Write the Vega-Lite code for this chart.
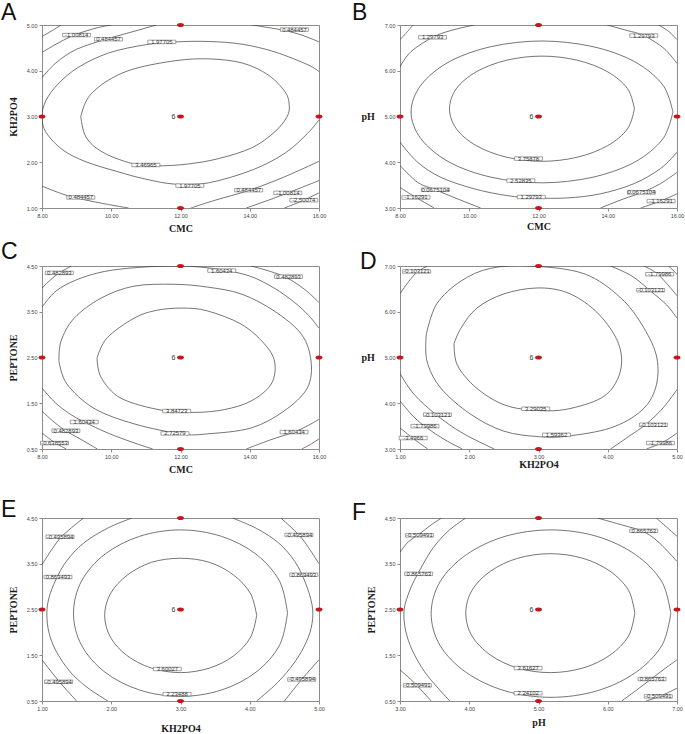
{
"$schema": "https://vega.github.io/schema/vega-lite/v6.json",
"padding": {"left": 0, "top": 1, "right": 2, "bottom": 2},
"datasets": {
"lines": [
{"p":"A","c":"A1","x":9.12,"y":3.0},{"p":"A","c":"A1","x":9.35,"y":3.43},{"p":"A","c":"A1","x":9.93,"y":3.8},{"p":"A","c":"A1","x":10.7,"y":4.05},{"p":"A","c":"A1","x":11.86,"y":4.22},{"p":"A","c":"A1","x":12.81,"y":4.26},{"p":"A","c":"A1","x":13.78,"y":4.17},{"p":"A","c":"A1","x":14.53,"y":3.91},{"p":"A","c":"A1","x":15.02,"y":3.54},{"p":"A","c":"A1","x":15.14,"y":3.25},{"p":"A","c":"A1","x":15.08,"y":3.0},{"p":"A","c":"A1","x":14.73,"y":2.67},{"p":"A","c":"A1","x":14.07,"y":2.32},{"p":"A","c":"A1","x":13.1,"y":2.08},{"p":"A","c":"A1","x":12.2,"y":1.96},{"p":"A","c":"A1","x":11.3,"y":1.92},{"p":"A","c":"A1","x":10.61,"y":1.97},{"p":"A","c":"A1","x":9.75,"y":2.22},{"p":"A","c":"A1","x":9.27,"y":2.55},{"p":"A","c":"A1","x":9.12,"y":3.0},
{"p":"A","c":"A2","x":16,"y":3.98},{"p":"A","c":"A2","x":15.68,"y":4.13},{"p":"A","c":"A2","x":14.73,"y":4.41},{"p":"A","c":"A2","x":13.78,"y":4.58},{"p":"A","c":"A2","x":12.81,"y":4.64},{"p":"A","c":"A2","x":11.86,"y":4.63},{"p":"A","c":"A2","x":11.0,"y":4.57},{"p":"A","c":"A2","x":9.93,"y":4.39},{"p":"A","c":"A2","x":9.06,"y":4.08},{"p":"A","c":"A2","x":8.49,"y":3.73},{"p":"A","c":"A2","x":8.12,"y":3.36},{"p":"A","c":"A2","x":8.0,"y":3.0},{"p":"A","c":"A2","x":8.12,"y":2.65},{"p":"A","c":"A2","x":8.6,"y":2.27},{"p":"A","c":"A2","x":9.27,"y":2.01},{"p":"A","c":"A2","x":10.2,"y":1.79},{"p":"A","c":"A2","x":11.0,"y":1.63},{"p":"A","c":"A2","x":11.86,"y":1.52},{"p":"A","c":"A2","x":12.81,"y":1.55},{"p":"A","c":"A2","x":14.07,"y":1.83},{"p":"A","c":"A2","x":15.02,"y":2.2},{"p":"A","c":"A2","x":15.68,"y":2.64},{"p":"A","c":"A2","x":16,"y":2.93},
{"p":"A","c":"A3","x":8,"y":3.85},{"p":"A","c":"A3","x":8.4,"y":4.17},{"p":"A","c":"A3","x":9.0,"y":4.47},{"p":"A","c":"A3","x":9.9,"y":4.7},{"p":"A","c":"A3","x":10.7,"y":4.87},{"p":"A","c":"A3","x":11.3,"y":5.0},
{"p":"A","c":"A4","x":14.07,"y":5.0},{"p":"A","c":"A4","x":14.94,"y":4.89},{"p":"A","c":"A4","x":15.5,"y":4.78},{"p":"A","c":"A4","x":16,"y":4.63},
{"p":"A","c":"A5","x":8,"y":1.48},{"p":"A","c":"A5","x":8.78,"y":1.26},{"p":"A","c":"A5","x":9.75,"y":1.1},{"p":"A","c":"A5","x":10.5,"y":1.0},
{"p":"A","c":"A6","x":12.3,"y":1.0},{"p":"A","c":"A6","x":13.0,"y":1.17},{"p":"A","c":"A6","x":14.0,"y":1.39},{"p":"A","c":"A6","x":15.0,"y":1.68},{"p":"A","c":"A6","x":16,"y":2.02},
{"p":"A","c":"A7","x":8,"y":4.4},{"p":"A","c":"A7","x":8.5,"y":4.62},{"p":"A","c":"A7","x":9.0,"y":4.8},{"p":"A","c":"A7","x":9.6,"y":4.94},{"p":"A","c":"A7","x":10.0,"y":5.0},
{"p":"A","c":"A8","x":13.9,"y":1.0},{"p":"A","c":"A8","x":14.5,"y":1.16},{"p":"A","c":"A8","x":15.1,"y":1.33},{"p":"A","c":"A8","x":16,"y":1.6},
{"p":"A","c":"A9","x":8,"y":4.75},{"p":"A","c":"A9","x":8.3,"y":4.88},{"p":"A","c":"A9","x":8.55,"y":5.0},
{"p":"A","c":"A10","x":15.0,"y":1.0},{"p":"A","c":"A10","x":15.5,"y":1.15},{"p":"A","c":"A10","x":16,"y":1.33},

{"p":"B","c":"B1","x":14.77,"y":5.17},{"p":"B","c":"B1","x":14.57,"y":5.61},{"p":"B","c":"B1","x":13.99,"y":5.98},{"p":"B","c":"B1","x":13.12,"y":6.23},{"p":"B","c":"B1","x":12.1,"y":6.32},{"p":"B","c":"B1","x":11.08,"y":6.23},{"p":"B","c":"B1","x":10.21,"y":5.98},{"p":"B","c":"B1","x":9.63,"y":5.61},{"p":"B","c":"B1","x":9.43,"y":5.17},{"p":"B","c":"B1","x":9.63,"y":4.73},{"p":"B","c":"B1","x":10.21,"y":4.36},{"p":"B","c":"B1","x":11.08,"y":4.11},{"p":"B","c":"B1","x":12.1,"y":4.02},{"p":"B","c":"B1","x":13.12,"y":4.11},{"p":"B","c":"B1","x":13.99,"y":4.36},{"p":"B","c":"B1","x":14.57,"y":4.73},{"p":"B","c":"B1","x":14.77,"y":5.17},
{"p":"B","c":"B2","x":15.88,"y":5.1},{"p":"B","c":"B2","x":15.59,"y":5.69},{"p":"B","c":"B2","x":14.77,"y":6.2},{"p":"B","c":"B2","x":13.55,"y":6.53},{"p":"B","c":"B2","x":12.1,"y":6.65},{"p":"B","c":"B2","x":10.65,"y":6.53},{"p":"B","c":"B2","x":9.43,"y":6.2},{"p":"B","c":"B2","x":8.61,"y":5.69},{"p":"B","c":"B2","x":8.32,"y":5.1},{"p":"B","c":"B2","x":8.61,"y":4.51},{"p":"B","c":"B2","x":9.43,"y":4.0},{"p":"B","c":"B2","x":10.65,"y":3.67},{"p":"B","c":"B2","x":12.1,"y":3.55},{"p":"B","c":"B2","x":13.55,"y":3.67},{"p":"B","c":"B2","x":14.77,"y":4.0},{"p":"B","c":"B2","x":15.59,"y":4.51},{"p":"B","c":"B2","x":15.88,"y":5.1},
{"p":"B","c":"B3","x":8,"y":6.09},{"p":"B","c":"B3","x":8.32,"y":6.42},{"p":"B","c":"B3","x":8.94,"y":6.73},{"p":"B","c":"B3","x":9.47,"y":6.88},{"p":"B","c":"B3","x":10.14,"y":7},
{"p":"B","c":"B4","x":13.98,"y":7},{"p":"B","c":"B4","x":14.56,"y":6.88},{"p":"B","c":"B4","x":15.04,"y":6.77},{"p":"B","c":"B4","x":15.62,"y":6.49},{"p":"B","c":"B4","x":16,"y":6.16},
{"p":"B","c":"B5","x":8,"y":4.44},{"p":"B","c":"B5","x":8.51,"y":4.0},{"p":"B","c":"B5","x":9.18,"y":3.67},{"p":"B","c":"B5","x":10.14,"y":3.42},{"p":"B","c":"B5","x":11.1,"y":3.27},{"p":"B","c":"B5","x":11.9,"y":3.22},{"p":"B","c":"B5","x":12.83,"y":3.22},{"p":"B","c":"B5","x":13.79,"y":3.31},{"p":"B","c":"B5","x":14.75,"y":3.53},{"p":"B","c":"B5","x":15.52,"y":3.86},{"p":"B","c":"B5","x":16,"y":4.22},
{"p":"B","c":"B6","x":8,"y":6.68},{"p":"B","c":"B6","x":8.22,"y":6.86},{"p":"B","c":"B6","x":8.37,"y":7},
{"p":"B","c":"B7","x":15.47,"y":7},{"p":"B","c":"B7","x":15.76,"y":6.86},{"p":"B","c":"B7","x":16,"y":6.68},
{"p":"B","c":"B8","x":8,"y":3.93},{"p":"B","c":"B8","x":8.51,"y":3.56},{"p":"B","c":"B8","x":9.02,"y":3.4},{"p":"B","c":"B8","x":9.66,"y":3.2},{"p":"B","c":"B8","x":10.33,"y":3.0},
{"p":"B","c":"B9","x":13.79,"y":3.0},{"p":"B","c":"B9","x":14.46,"y":3.2},{"p":"B","c":"B9","x":14.99,"y":3.34},{"p":"B","c":"B9","x":15.52,"y":3.53},{"p":"B","c":"B9","x":16,"y":3.78},
{"p":"B","c":"B10","x":8,"y":3.45},{"p":"B","c":"B10","x":8.46,"y":3.23},{"p":"B","c":"B10","x":8.99,"y":3.0},
{"p":"B","c":"B11","x":14.95,"y":3.0},{"p":"B","c":"B11","x":15.52,"y":3.15},{"p":"B","c":"B11","x":16,"y":3.31},

{"p":"C","c":"C1","x":9.59,"y":2.49},{"p":"C","c":"C1","x":9.88,"y":2.93},{"p":"C","c":"C1","x":10.66,"y":3.36},{"p":"C","c":"C1","x":11.3,"y":3.53},{"p":"C","c":"C1","x":12.05,"y":3.58},{"p":"C","c":"C1","x":12.77,"y":3.52},{"p":"C","c":"C1","x":13.75,"y":3.23},{"p":"C","c":"C1","x":14.42,"y":2.8},{"p":"C","c":"C1","x":14.72,"y":2.4},{"p":"C","c":"C1","x":14.62,"y":1.92},{"p":"C","c":"C1","x":14.04,"y":1.55},{"p":"C","c":"C1","x":13.26,"y":1.36},{"p":"C","c":"C1","x":12.4,"y":1.3},{"p":"C","c":"C1","x":11.44,"y":1.35},{"p":"C","c":"C1","x":10.28,"y":1.61},{"p":"C","c":"C1","x":9.71,"y":2.06},{"p":"C","c":"C1","x":9.59,"y":2.49},
{"p":"C","c":"C2","x":8.49,"y":2.42},{"p":"C","c":"C2","x":8.55,"y":2.86},{"p":"C","c":"C2","x":8.93,"y":3.36},{"p":"C","c":"C2","x":9.71,"y":3.8},{"p":"C","c":"C2","x":10.66,"y":4.06},{"p":"C","c":"C2","x":11.82,"y":4.1},{"p":"C","c":"C2","x":12.77,"y":4.04},{"p":"C","c":"C2","x":13.75,"y":3.89},{"p":"C","c":"C2","x":14.7,"y":3.52},{"p":"C","c":"C2","x":15.49,"y":3.01},{"p":"C","c":"C2","x":15.77,"y":2.42},{"p":"C","c":"C2","x":15.66,"y":1.83},{"p":"C","c":"C2","x":14.99,"y":1.33},{"p":"C","c":"C2","x":14.04,"y":0.96},{"p":"C","c":"C2","x":12.77,"y":0.83},{"p":"C","c":"C2","x":12.02,"y":0.83},{"p":"C","c":"C2","x":10.66,"y":1.05},{"p":"C","c":"C2","x":9.5,"y":1.39},{"p":"C","c":"C2","x":8.72,"y":1.92},{"p":"C","c":"C2","x":8.49,"y":2.42},
{"p":"C","c":"C3","x":8.0,"y":3.6},{"p":"C","c":"C3","x":8.4,"y":3.95},{"p":"C","c":"C3","x":9.0,"y":4.2},{"p":"C","c":"C3","x":9.8,"y":4.38},{"p":"C","c":"C3","x":10.8,"y":4.47},{"p":"C","c":"C3","x":11.82,"y":4.5},{"p":"C","c":"C3","x":12.5,"y":4.48},{"p":"C","c":"C3","x":13.19,"y":4.42},{"p":"C","c":"C3","x":14.0,"y":4.28},{"p":"C","c":"C3","x":14.7,"y":4.02},{"p":"C","c":"C3","x":15.3,"y":3.7},{"p":"C","c":"C3","x":15.7,"y":3.42},{"p":"C","c":"C3","x":16.0,"y":3.14},
{"p":"C","c":"C4","x":8.0,"y":1.83},{"p":"C","c":"C4","x":8.4,"y":1.5},{"p":"C","c":"C4","x":8.8,"y":1.27},{"p":"C","c":"C4","x":9.22,"y":1.09},{"p":"C","c":"C4","x":9.9,"y":0.85},{"p":"C","c":"C4","x":10.6,"y":0.65},{"p":"C","c":"C4","x":11.2,"y":0.5},
{"p":"C","c":"C5","x":13.9,"y":0.5},{"p":"C","c":"C5","x":14.6,"y":0.7},{"p":"C","c":"C5","x":15.28,"y":0.87},{"p":"C","c":"C5","x":15.7,"y":1.02},{"p":"C","c":"C5","x":16.0,"y":1.15},
{"p":"C","c":"C6","x":8.0,"y":4.02},{"p":"C","c":"C6","x":8.25,"y":4.2},{"p":"C","c":"C6","x":8.5,"y":4.35},{"p":"C","c":"C6","x":8.85,"y":4.5},
{"p":"C","c":"C7","x":14.04,"y":4.5},{"p":"C","c":"C7","x":14.6,"y":4.38},{"p":"C","c":"C7","x":15.08,"y":4.24},{"p":"C","c":"C7","x":15.6,"y":3.98},{"p":"C","c":"C7","x":16.0,"y":3.7},
{"p":"C","c":"C8","x":8.0,"y":1.33},{"p":"C","c":"C8","x":8.3,"y":1.12},{"p":"C","c":"C8","x":8.64,"y":0.92},{"p":"C","c":"C8","x":9.1,"y":0.72},{"p":"C","c":"C8","x":9.6,"y":0.5},
{"p":"C","c":"C9","x":8.0,"y":0.85},{"p":"C","c":"C9","x":8.35,"y":0.65},{"p":"C","c":"C9","x":8.7,"y":0.5},
{"p":"C","c":"C10","x":15.5,"y":0.5},{"p":"C","c":"C10","x":15.75,"y":0.6},{"p":"C","c":"C10","x":16.0,"y":0.72},

{"p":"D","c":"D1","x":1.78,"y":5.3},{"p":"D","c":"D1","x":1.88,"y":5.64},{"p":"D","c":"D1","x":2.11,"y":6.08},{"p":"D","c":"D1","x":2.5,"y":6.39},{"p":"D","c":"D1","x":2.98,"y":6.52},{"p":"D","c":"D1","x":3.41,"y":6.42},{"p":"D","c":"D1","x":3.8,"y":6.05},{"p":"D","c":"D1","x":4.09,"y":5.51},{"p":"D","c":"D1","x":4.2,"y":4.99},{"p":"D","c":"D1","x":4.13,"y":4.49},{"p":"D","c":"D1","x":3.9,"y":4.11},{"p":"D","c":"D1","x":3.41,"y":3.87},{"p":"D","c":"D1","x":3.0,"y":3.84},{"p":"D","c":"D1","x":2.6,"y":3.92},{"p":"D","c":"D1","x":2.3,"y":4.12},{"p":"D","c":"D1","x":2.02,"y":4.45},{"p":"D","c":"D1","x":1.82,"y":4.86},{"p":"D","c":"D1","x":1.78,"y":5.3},
{"p":"D","c":"D2","x":1.38,"y":5.51},{"p":"D","c":"D2","x":1.53,"y":6.17},{"p":"D","c":"D2","x":1.88,"y":6.67},{"p":"D","c":"D2","x":2.31,"y":6.95},{"p":"D","c":"D2","x":2.9,"y":7.0},{"p":"D","c":"D2","x":3.66,"y":6.83},{"p":"D","c":"D2","x":4.19,"y":6.3},{"p":"D","c":"D2","x":4.52,"y":5.65},{"p":"D","c":"D2","x":4.71,"y":4.99},{"p":"D","c":"D2","x":4.69,"y":4.33},{"p":"D","c":"D2","x":4.48,"y":3.83},{"p":"D","c":"D2","x":4.04,"y":3.46},{"p":"D","c":"D2","x":3.41,"y":3.28},{"p":"D","c":"D2","x":3.0,"y":3.27},{"p":"D","c":"D2","x":2.5,"y":3.39},{"p":"D","c":"D2","x":2.02,"y":3.76},{"p":"D","c":"D2","x":1.59,"y":4.33},{"p":"D","c":"D2","x":1.39,"y":4.92},{"p":"D","c":"D2","x":1.38,"y":5.51},
{"p":"D","c":"D3","x":1.0,"y":6.39},{"p":"D","c":"D3","x":1.12,"y":6.65},{"p":"D","c":"D3","x":1.25,"y":6.87},{"p":"D","c":"D3","x":1.4,"y":7.0},
{"p":"D","c":"D4","x":4.04,"y":7.0},{"p":"D","c":"D4","x":4.35,"y":6.78},{"p":"D","c":"D4","x":4.62,"y":6.45},{"p":"D","c":"D4","x":4.85,"y":6.15},{"p":"D","c":"D4","x":5.0,"y":5.86},
{"p":"D","c":"D5","x":1.0,"y":4.65},{"p":"D","c":"D5","x":1.2,"y":4.2},{"p":"D","c":"D5","x":1.53,"y":3.74},{"p":"D","c":"D5","x":1.9,"y":3.35},{"p":"D","c":"D5","x":2.36,"y":3.0},
{"p":"D","c":"D6","x":4.04,"y":3.0},{"p":"D","c":"D6","x":4.3,"y":3.27},{"p":"D","c":"D6","x":4.56,"y":3.55},{"p":"D","c":"D6","x":4.8,"y":3.9},{"p":"D","c":"D6","x":5.0,"y":4.3},
{"p":"D","c":"D7","x":4.52,"y":7.0},{"p":"D","c":"D7","x":4.7,"y":6.85},{"p":"D","c":"D7","x":4.85,"y":6.62},{"p":"D","c":"D7","x":5.0,"y":6.35},
{"p":"D","c":"D8","x":1.0,"y":4.05},{"p":"D","c":"D8","x":1.2,"y":3.7},{"p":"D","c":"D8","x":1.4,"y":3.45},{"p":"D","c":"D8","x":1.65,"y":3.2},{"p":"D","c":"D8","x":1.9,"y":3.0},
{"p":"D","c":"D9","x":4.56,"y":3.0},{"p":"D","c":"D9","x":4.8,"y":3.15},{"p":"D","c":"D9","x":5.0,"y":3.35},
{"p":"D","c":"D10","x":1.0,"y":3.46},{"p":"D","c":"D10","x":1.2,"y":3.22},{"p":"D","c":"D10","x":1.4,"y":3.0},
{"p":"D","c":"D11","x":4.88,"y":7.0},{"p":"D","c":"D11","x":5.0,"y":6.82},

{"p":"E","c":"E1","x":4.1,"y":2.37},{"p":"E","c":"E1","x":4.01,"y":2.85},{"p":"E","c":"E1","x":3.77,"y":3.25},{"p":"E","c":"E1","x":3.42,"y":3.53},{"p":"E","c":"E1","x":3.0,"y":3.62},{"p":"E","c":"E1","x":2.58,"y":3.53},{"p":"E","c":"E1","x":2.23,"y":3.25},{"p":"E","c":"E1","x":1.99,"y":2.85},{"p":"E","c":"E1","x":1.905,"y":2.37},{"p":"E","c":"E1","x":1.99,"y":1.89},{"p":"E","c":"E1","x":2.23,"y":1.49},{"p":"E","c":"E1","x":2.58,"y":1.22},{"p":"E","c":"E1","x":3.0,"y":1.12},{"p":"E","c":"E1","x":3.42,"y":1.22},{"p":"E","c":"E1","x":3.77,"y":1.49},{"p":"E","c":"E1","x":4.01,"y":1.89},{"p":"E","c":"E1","x":4.1,"y":2.37},
{"p":"E","c":"E2","x":4.545,"y":2.42},{"p":"E","c":"E2","x":4.43,"y":3.12},{"p":"E","c":"E2","x":4.09,"y":3.71},{"p":"E","c":"E2","x":3.59,"y":4.1},{"p":"E","c":"E2","x":3.0,"y":4.24},{"p":"E","c":"E2","x":2.41,"y":4.1},{"p":"E","c":"E2","x":1.91,"y":3.71},{"p":"E","c":"E2","x":1.57,"y":3.12},{"p":"E","c":"E2","x":1.455,"y":2.42},{"p":"E","c":"E2","x":1.57,"y":1.72},{"p":"E","c":"E2","x":1.91,"y":1.13},{"p":"E","c":"E2","x":2.41,"y":0.74},{"p":"E","c":"E2","x":3.0,"y":0.6},{"p":"E","c":"E2","x":3.59,"y":0.74},{"p":"E","c":"E2","x":4.09,"y":1.13},{"p":"E","c":"E2","x":4.43,"y":1.72},{"p":"E","c":"E2","x":4.545,"y":2.42},
{"p":"E","c":"E3","x":2.3,"y":4.5},{"p":"E","c":"E3","x":1.95,"y":4.28},{"p":"E","c":"E3","x":1.6,"y":3.95},{"p":"E","c":"E3","x":1.35,"y":3.55},{"p":"E","c":"E3","x":1.2,"y":3.15},{"p":"E","c":"E3","x":1.1,"y":2.75},{"p":"E","c":"E3","x":1.07,"y":2.4},{"p":"E","c":"E3","x":1.1,"y":2.0},{"p":"E","c":"E3","x":1.2,"y":1.6},{"p":"E","c":"E3","x":1.4,"y":1.15},{"p":"E","c":"E3","x":1.65,"y":0.8},{"p":"E","c":"E3","x":1.95,"y":0.5},
{"p":"E","c":"E4","x":1.0,"y":3.48},{"p":"E","c":"E4","x":1.15,"y":3.83},{"p":"E","c":"E4","x":1.3,"y":4.12},{"p":"E","c":"E4","x":1.6,"y":4.5},
{"p":"E","c":"E5","x":3.75,"y":4.5},{"p":"E","c":"E5","x":4.1,"y":4.27},{"p":"E","c":"E5","x":4.42,"y":3.95},{"p":"E","c":"E5","x":4.65,"y":3.55},{"p":"E","c":"E5","x":4.8,"y":3.1},{"p":"E","c":"E5","x":4.9,"y":2.6},{"p":"E","c":"E5","x":4.9,"y":2.2},{"p":"E","c":"E5","x":4.82,"y":1.8},{"p":"E","c":"E5","x":4.65,"y":1.35},{"p":"E","c":"E5","x":4.4,"y":0.9},{"p":"E","c":"E5","x":4.1,"y":0.5},
{"p":"E","c":"E6","x":4.45,"y":4.5},{"p":"E","c":"E6","x":4.71,"y":4.13},{"p":"E","c":"E6","x":4.85,"y":3.85},{"p":"E","c":"E6","x":5.0,"y":3.5},
{"p":"E","c":"E7","x":1.0,"y":1.4},{"p":"E","c":"E7","x":1.24,"y":0.94},{"p":"E","c":"E7","x":1.5,"y":0.5},
{"p":"E","c":"E8","x":4.5,"y":0.5},{"p":"E","c":"E8","x":4.75,"y":0.97},{"p":"E","c":"E8","x":5.0,"y":1.4},

{"p":"F","c":"F1","x":6.39,"y":2.42},{"p":"F","c":"F1","x":6.3,"y":2.92},{"p":"F","c":"F1","x":6.03,"y":3.34},{"p":"F","c":"F1","x":5.64,"y":3.62},{"p":"F","c":"F1","x":5.17,"y":3.72},{"p":"F","c":"F1","x":4.7,"y":3.62},{"p":"F","c":"F1","x":4.31,"y":3.34},{"p":"F","c":"F1","x":4.04,"y":2.92},{"p":"F","c":"F1","x":3.95,"y":2.42},{"p":"F","c":"F1","x":4.04,"y":1.92},{"p":"F","c":"F1","x":4.31,"y":1.5},{"p":"F","c":"F1","x":4.7,"y":1.22},{"p":"F","c":"F1","x":5.17,"y":1.12},{"p":"F","c":"F1","x":5.64,"y":1.22},{"p":"F","c":"F1","x":6.03,"y":1.5},{"p":"F","c":"F1","x":6.3,"y":1.92},{"p":"F","c":"F1","x":6.39,"y":2.42},
{"p":"F","c":"F2","x":6.91,"y":2.41},{"p":"F","c":"F2","x":6.78,"y":3.11},{"p":"F","c":"F2","x":6.4,"y":3.7},{"p":"F","c":"F2","x":5.84,"y":4.1},{"p":"F","c":"F2","x":5.18,"y":4.24},{"p":"F","c":"F2","x":4.52,"y":4.1},{"p":"F","c":"F2","x":3.96,"y":3.7},{"p":"F","c":"F2","x":3.58,"y":3.11},{"p":"F","c":"F2","x":3.45,"y":2.41},{"p":"F","c":"F2","x":3.58,"y":1.71},{"p":"F","c":"F2","x":3.96,"y":1.12},{"p":"F","c":"F2","x":4.52,"y":0.72},{"p":"F","c":"F2","x":5.18,"y":0.58},{"p":"F","c":"F2","x":5.84,"y":0.72},{"p":"F","c":"F2","x":6.4,"y":1.12},{"p":"F","c":"F2","x":6.78,"y":1.71},{"p":"F","c":"F2","x":6.91,"y":2.41},
{"p":"F","c":"F3","x":3.95,"y":4.5},{"p":"F","c":"F3","x":3.7,"y":4.22},{"p":"F","c":"F3","x":3.48,"y":3.85},{"p":"F","c":"F3","x":3.3,"y":3.4},{"p":"F","c":"F3","x":3.15,"y":2.95},{"p":"F","c":"F3","x":3.06,"y":2.5},{"p":"F","c":"F3","x":3.08,"y":2.05},{"p":"F","c":"F3","x":3.18,"y":1.6},{"p":"F","c":"F3","x":3.35,"y":1.15},{"p":"F","c":"F3","x":3.55,"y":0.78},{"p":"F","c":"F3","x":3.72,"y":0.5},
{"p":"F","c":"F5","x":3.0,"y":3.75},{"p":"F","c":"F5","x":3.12,"y":3.98},{"p":"F","c":"F5","x":3.28,"y":4.15},{"p":"F","c":"F5","x":3.45,"y":4.35},{"p":"F","c":"F5","x":3.6,"y":4.5},
{"p":"F","c":"F6","x":3.0,"y":1.18},{"p":"F","c":"F6","x":3.15,"y":0.98},{"p":"F","c":"F6","x":3.3,"y":0.75},{"p":"F","c":"F6","x":3.45,"y":0.5},
{"p":"F","c":"F7","x":5.85,"y":4.5},{"p":"F","c":"F7","x":6.2,"y":4.35},{"p":"F","c":"F7","x":6.52,"y":4.2},{"p":"F","c":"F7","x":6.75,"y":3.95},{"p":"F","c":"F7","x":7.0,"y":3.55},
{"p":"F","c":"F8","x":7.0,"y":1.4},{"p":"F","c":"F8","x":6.8,"y":1.18},{"p":"F","c":"F8","x":6.6,"y":0.95},{"p":"F","c":"F8","x":6.4,"y":0.72},{"p":"F","c":"F8","x":6.2,"y":0.5},
{"p":"F","c":"F9","x":6.55,"y":0.5},{"p":"F","c":"F9","x":6.75,"y":0.6},{"p":"F","c":"F9","x":7.0,"y":0.78},
{"p":"F","c":"F10","x":6.7,"y":4.5},{"p":"F","c":"F10","x":6.85,"y":4.3},{"p":"F","c":"F10","x":7.0,"y":4.1}
],
"labels": [
{"p":"A","x":9.0,"y":4.78,"t":"-1.00814"},{"p":"A","x":9.92,"y":4.69,"t":"0.484457"},{"p":"A","x":11.46,"y":4.63,"t":"1.97705"},{"p":"A","x":15.29,"y":4.9,"t":"0.484457"},{"p":"A","x":11.0,"y":1.94,"t":"3.46965"},{"p":"A","x":12.27,"y":1.49,"t":"1.97705"},{"p":"A","x":9.12,"y":1.23,"t":"0.484457"},{"p":"A","x":13.97,"y":1.39,"t":"0.484457"},{"p":"A","x":15.1,"y":1.33,"t":"-1.00814"},{"p":"A","x":15.56,"y":1.17,"t":"-2.50074"},
{"p":"B","x":8.94,"y":6.73,"t":"1.29793"},{"p":"B","x":15.04,"y":6.77,"t":"1.29793"},{"p":"B","x":11.71,"y":4.08,"t":"3.75878"},{"p":"B","x":11.49,"y":3.6,"t":"2.52835"},{"p":"B","x":11.79,"y":3.24,"t":"1.29793"},{"p":"B","x":9.02,"y":3.4,"t":"0.0675104"},{"p":"B","x":8.46,"y":3.23,"t":"-1.16291"},{"p":"B","x":14.97,"y":3.34,"t":"0.0675104"},{"p":"B","x":15.54,"y":3.15,"t":"-1.16291"},
{"p":"C","x":8.5,"y":4.35,"t":"0.482893"},{"p":"C","x":13.19,"y":4.4,"t":"1.60434"},{"p":"C","x":15.12,"y":4.27,"t":"0.482893"},{"p":"C","x":11.89,"y":1.33,"t":"3.84723"},{"p":"C","x":11.84,"y":0.84,"t":"2.72579"},{"p":"C","x":9.22,"y":1.09,"t":"1.60434"},{"p":"C","x":8.69,"y":0.9,"t":"0.482893"},{"p":"C","x":8.36,"y":0.63,"t":"-0.638553"},{"p":"C","x":15.28,"y":0.87,"t":"1.60434"},
{"p":"D","x":1.24,"y":6.88,"t":"-0.103121"},{"p":"D","x":4.75,"y":6.82,"t":"-1.79986"},{"p":"D","x":4.62,"y":6.47,"t":"-0.103121"},{"p":"D","x":2.96,"y":3.88,"t":"3.29035"},{"p":"D","x":3.26,"y":3.31,"t":"1.59362"},{"p":"D","x":1.54,"y":3.75,"t":"-0.103121"},{"p":"D","x":1.36,"y":3.5,"t":"-1.79986"},{"p":"D","x":1.19,"y":3.24,"t":"-3.4966"},{"p":"D","x":4.66,"y":3.53,"t":"-0.103121"},{"p":"D","x":4.76,"y":3.13,"t":"-1.79986"},
{"p":"E","x":1.26,"y":4.09,"t":"-0.495894"},{"p":"E","x":4.71,"y":4.13,"t":"-0.495894"},{"p":"E","x":1.23,"y":3.21,"t":"0.869493"},{"p":"E","x":4.78,"y":3.26,"t":"0.869493"},{"p":"E","x":2.81,"y":1.2,"t":"3.60027"},{"p":"E","x":2.95,"y":0.65,"t":"2.23488"},{"p":"E","x":1.24,"y":0.92,"t":"-0.495894"},{"p":"E","x":4.75,"y":0.97,"t":"-0.495894"},
{"p":"F","x":3.28,"y":4.12,"t":"-0.509491"},{"p":"F","x":6.52,"y":4.22,"t":"0.865763"},{"p":"F","x":3.27,"y":3.28,"t":"0.865763"},{"p":"F","x":4.85,"y":1.22,"t":"3.61627"},{"p":"F","x":4.85,"y":0.67,"t":"2.24102"},{"p":"F","x":3.25,"y":0.84,"t":"-0.509491"},{"p":"F","x":6.64,"y":0.98,"t":"0.865763"},{"p":"F","x":6.73,"y":0.6,"t":"-0.509491"}
],
"dots": [
{"p":"A","x":8,"y":3},{"p":"A","x":16,"y":3},{"p":"A","x":12,"y":1},{"p":"A","x":12,"y":5},{"p":"A","x":12,"y":3},
{"p":"B","x":8,"y":5},{"p":"B","x":16,"y":5},{"p":"B","x":12,"y":3},{"p":"B","x":12,"y":7},{"p":"B","x":12,"y":5},
{"p":"C","x":8,"y":2.5},{"p":"C","x":16,"y":2.5},{"p":"C","x":12,"y":0.5},{"p":"C","x":12,"y":4.5},{"p":"C","x":12,"y":2.5},
{"p":"D","x":1,"y":5},{"p":"D","x":5,"y":5},{"p":"D","x":3,"y":3},{"p":"D","x":3,"y":7},{"p":"D","x":3,"y":5},
{"p":"E","x":1,"y":2.5},{"p":"E","x":5,"y":2.5},{"p":"E","x":3,"y":0.5},{"p":"E","x":3,"y":4.5},{"p":"E","x":3,"y":2.5},
{"p":"F","x":3,"y":2.5},{"p":"F","x":7,"y":2.5},{"p":"F","x":5,"y":0.5},{"p":"F","x":5,"y":4.5},{"p":"F","x":5,"y":2.5}
],
"runs": [
{"p":"A","x":12,"y":3,"n":"6"},{"p":"B","x":12,"y":5,"n":"6"},{"p":"C","x":12,"y":2.5,"n":"6"},{"p":"D","x":3,"y":5,"n":"6"},{"p":"E","x":3,"y":2.5,"n":"6"},{"p":"F","x":5,"y":2.5,"n":"6"}
]
},
"config": {
"view": {"stroke": "#8c8c8c", "strokeWidth": 1},
"axis": {"domain": false, "grid": false, "ticks": true, "tickColor": "#8c8c8c", "tickSize": 3, "labelFontSize": 5.5, "labelColor": "#444", "labelFont": "Liberation Sans", "labelPadding": 2, "labelFlush": false, "labelOverlap": false, "format": ".2f", "titleFont": "Liberation Serif", "titleFontWeight": "bold", "titleFontSize": 10, "titleColor": "#1a1a1a"},
"title": {"font": "Liberation Sans", "fontSize": 23, "fontWeight": "normal", "anchor": "start", "frame": "group", "color": "#111"}
},
"vconcat": [
{"vconcat": [
{"hconcat": [
{"width": 277, "height": 183, "title": {"text": "A", "dx": -41, "offset": -2},
"encoding": {"x": {"field": "x", "type": "quantitative", "scale": {"domain": [8, 16], "nice": false, "zero": false}, "axis": {"values": [8, 10, 12, 14, 16], "title": "CMC", "titlePadding": 5}},
"y": {"field": "y", "type": "quantitative", "scale": {"domain": [1, 5], "nice": false, "zero": false}, "axis": {"values": [1, 2, 3, 4, 5], "title": "KH2PO4", "titlePadding": 8}}},
"layer": [
{"data": {"name": "lines"}, "transform": [{"filter": "datum.p === 'A'"}], "mark": {"type": "line", "interpolate": "cardinal", "stroke": "#3a3a3a", "strokeWidth": 0.7, "clip": true}, "encoding": {"detail": {"field": "c"}, "order": {"value": null}}},
{"data": {"name": "labels"}, "transform": [{"filter": "datum.p === 'A'"}], "mark": {"type": "point", "shape": "M-1,-0.125H1V0.125H-1Z", "size": 784, "filled": true, "fill": "#ffffff", "stroke": "#666666", "strokeWidth": 0.6, "opacity": 1}},
{"data": {"name": "labels"}, "transform": [{"filter": "datum.p === 'A'"}], "mark": {"type": "text", "fontSize": 5.9, "font": "Liberation Sans", "color": "#333"}, "encoding": {"text": {"field": "t"}}},
{"data": {"name": "dots"}, "transform": [{"filter": "datum.p === 'A'"}], "mark": {"type": "point", "shape": "M-1,0A1,0.6,0,1,1,1,0A1,0.6,0,1,1,-1,0Z", "size": 49, "filled": true, "color": "#c4161c", "opacity": 1}},
{"data": {"name": "runs"}, "transform": [{"filter": "datum.p === 'A'"}], "mark": {"type": "text", "dx": -7, "fontSize": 7, "font": "Liberation Sans", "color": "#333"}, "encoding": {"text": {"field": "n"}}}
]},
{"width": 277, "height": 183, "title": {"text": "B", "dx": -48, "offset": -2},
"encoding": {"x": {"field": "x", "type": "quantitative", "scale": {"domain": [8, 16], "nice": false, "zero": false}, "axis": {"values": [8, 10, 12, 14, 16], "title": "CMC", "titlePadding": 3}},
"y": {"field": "y", "type": "quantitative", "scale": {"domain": [3, 7], "nice": false, "zero": false}, "axis": {"values": [3, 4, 5, 6, 7], "title": "pH", "titleAngle": 0, "titleAlign": "right", "titleBaseline": "middle", "titlePadding": 10}}},
"layer": [
{"data": {"name": "lines"}, "transform": [{"filter": "datum.p === 'B'"}], "mark": {"type": "line", "interpolate": "cardinal", "stroke": "#3a3a3a", "strokeWidth": 0.7, "clip": true}, "encoding": {"detail": {"field": "c"}, "order": {"value": null}}},
{"data": {"name": "labels"}, "transform": [{"filter": "datum.p === 'B'"}], "mark": {"type": "point", "shape": "M-1,-0.125H1V0.125H-1Z", "size": 784, "filled": true, "fill": "#ffffff", "stroke": "#666666", "strokeWidth": 0.6, "opacity": 1}},
{"data": {"name": "labels"}, "transform": [{"filter": "datum.p === 'B'"}], "mark": {"type": "text", "fontSize": 5.9, "font": "Liberation Sans", "color": "#333"}, "encoding": {"text": {"field": "t"}}},
{"data": {"name": "dots"}, "transform": [{"filter": "datum.p === 'B'"}], "mark": {"type": "point", "shape": "M-1,0A1,0.6,0,1,1,1,0A1,0.6,0,1,1,-1,0Z", "size": 49, "filled": true, "color": "#c4161c", "opacity": 1}},
{"data": {"name": "runs"}, "transform": [{"filter": "datum.p === 'B'"}], "mark": {"type": "text", "dx": -7, "fontSize": 7, "font": "Liberation Sans", "color": "#333"}, "encoding": {"text": {"field": "n"}}}
]}
], "spacing": 81, "bounds": "flush"},
{"hconcat": [
{"width": 277, "height": 183, "title": {"text": "C", "dx": -41, "offset": 0},
"encoding": {"x": {"field": "x", "type": "quantitative", "scale": {"domain": [8, 16], "nice": false, "zero": false}, "axis": {"values": [8, 10, 12, 14, 16], "title": "CMC", "titlePadding": 5}},
"y": {"field": "y", "type": "quantitative", "scale": {"domain": [0.5, 4.5], "nice": false, "zero": false}, "axis": {"values": [0.5, 1.5, 2.5, 3.5, 4.5], "title": "PEPTONE", "titlePadding": 8}}},
"layer": [
{"data": {"name": "lines"}, "transform": [{"filter": "datum.p === 'C'"}], "mark": {"type": "line", "interpolate": "cardinal", "stroke": "#3a3a3a", "strokeWidth": 0.7, "clip": true}, "encoding": {"detail": {"field": "c"}, "order": {"value": null}}},
{"data": {"name": "labels"}, "transform": [{"filter": "datum.p === 'C'"}], "mark": {"type": "point", "shape": "M-1,-0.125H1V0.125H-1Z", "size": 784, "filled": true, "fill": "#ffffff", "stroke": "#666666", "strokeWidth": 0.6, "opacity": 1}},
{"data": {"name": "labels"}, "transform": [{"filter": "datum.p === 'C'"}], "mark": {"type": "text", "fontSize": 5.9, "font": "Liberation Sans", "color": "#333"}, "encoding": {"text": {"field": "t"}}},
{"data": {"name": "dots"}, "transform": [{"filter": "datum.p === 'C'"}], "mark": {"type": "point", "shape": "M-1,0A1,0.6,0,1,1,1,0A1,0.6,0,1,1,-1,0Z", "size": 49, "filled": true, "color": "#c4161c", "opacity": 1}},
{"data": {"name": "runs"}, "transform": [{"filter": "datum.p === 'C'"}], "mark": {"type": "text", "dx": -7, "fontSize": 7, "font": "Liberation Sans", "color": "#333"}, "encoding": {"text": {"field": "n"}}}
]},
{"width": 277, "height": 183, "title": {"text": "D", "dx": -40, "offset": -10},
"encoding": {"x": {"field": "x", "type": "quantitative", "scale": {"domain": [1, 5], "nice": false, "zero": false}, "axis": {"values": [1, 2, 3, 4, 5], "title": "KH2PO4", "titlePadding": 0}},
"y": {"field": "y", "type": "quantitative", "scale": {"domain": [3, 7], "nice": false, "zero": false}, "axis": {"values": [3, 4, 5, 6, 7], "title": "pH", "titleAngle": 0, "titleAlign": "right", "titleBaseline": "middle", "titlePadding": 10}}},
"layer": [
{"data": {"name": "lines"}, "transform": [{"filter": "datum.p === 'D'"}], "mark": {"type": "line", "interpolate": "cardinal", "stroke": "#3a3a3a", "strokeWidth": 0.7, "clip": true}, "encoding": {"detail": {"field": "c"}, "order": {"value": null}}},
{"data": {"name": "labels"}, "transform": [{"filter": "datum.p === 'D'"}], "mark": {"type": "point", "shape": "M-1,-0.125H1V0.125H-1Z", "size": 784, "filled": true, "fill": "#ffffff", "stroke": "#666666", "strokeWidth": 0.6, "opacity": 1}},
{"data": {"name": "labels"}, "transform": [{"filter": "datum.p === 'D'"}], "mark": {"type": "text", "fontSize": 5.9, "font": "Liberation Sans", "color": "#333"}, "encoding": {"text": {"field": "t"}}},
{"data": {"name": "dots"}, "transform": [{"filter": "datum.p === 'D'"}], "mark": {"type": "point", "shape": "M-1,0A1,0.6,0,1,1,1,0A1,0.6,0,1,1,-1,0Z", "size": 49, "filled": true, "color": "#c4161c", "opacity": 1}},
{"data": {"name": "runs"}, "transform": [{"filter": "datum.p === 'D'"}], "mark": {"type": "text", "dx": -7, "fontSize": 7, "font": "Liberation Sans", "color": "#333"}, "encoding": {"text": {"field": "n"}}}
]}
], "spacing": 81, "bounds": "flush"}
], "spacing": 6},
{"hconcat": [
{"width": 277, "height": 183, "title": {"text": "E", "dx": -41, "offset": -6},
"encoding": {"x": {"field": "x", "type": "quantitative", "scale": {"domain": [1, 5], "nice": false, "zero": false}, "axis": {"values": [1, 2, 3, 4, 5], "title": "KH2PO4", "titlePadding": 12}},
"y": {"field": "y", "type": "quantitative", "scale": {"domain": [0.5, 4.5], "nice": false, "zero": false}, "axis": {"values": [0.5, 1.5, 2.5, 3.5, 4.5], "title": "PEPTONE", "titlePadding": 8}}},
"layer": [
{"data": {"name": "lines"}, "transform": [{"filter": "datum.p === 'E'"}], "mark": {"type": "line", "interpolate": "cardinal", "stroke": "#3a3a3a", "strokeWidth": 0.7, "clip": true}, "encoding": {"detail": {"field": "c"}, "order": {"value": null}}},
{"data": {"name": "labels"}, "transform": [{"filter": "datum.p === 'E'"}], "mark": {"type": "point", "shape": "M-1,-0.125H1V0.125H-1Z", "size": 784, "filled": true, "fill": "#ffffff", "stroke": "#666666", "strokeWidth": 0.6, "opacity": 1}},
{"data": {"name": "labels"}, "transform": [{"filter": "datum.p === 'E'"}], "mark": {"type": "text", "fontSize": 5.9, "font": "Liberation Sans", "color": "#333"}, "encoding": {"text": {"field": "t"}}},
{"data": {"name": "dots"}, "transform": [{"filter": "datum.p === 'E'"}], "mark": {"type": "point", "shape": "M-1,0A1,0.6,0,1,1,1,0A1,0.6,0,1,1,-1,0Z", "size": 49, "filled": true, "color": "#c4161c", "opacity": 1}},
{"data": {"name": "runs"}, "transform": [{"filter": "datum.p === 'E'"}], "mark": {"type": "text", "dx": -7, "fontSize": 7, "font": "Liberation Sans", "color": "#333"}, "encoding": {"text": {"field": "n"}}}
]},
{"width": 277, "height": 183, "title": {"text": "F", "dx": -48, "offset": -9},
"encoding": {"x": {"field": "x", "type": "quantitative", "scale": {"domain": [3, 7], "nice": false, "zero": false}, "axis": {"values": [3, 4, 5, 6, 7], "title": "pH", "titlePadding": 6}},
"y": {"field": "y", "type": "quantitative", "scale": {"domain": [0.5, 4.5], "nice": false, "zero": false}, "axis": {"values": [0.5, 1.5, 2.5, 3.5, 4.5], "title": "PEPTONE", "titlePadding": 8}}},
"layer": [
{"data": {"name": "lines"}, "transform": [{"filter": "datum.p === 'F'"}], "mark": {"type": "line", "interpolate": "cardinal", "stroke": "#3a3a3a", "strokeWidth": 0.7, "clip": true}, "encoding": {"detail": {"field": "c"}, "order": {"value": null}}},
{"data": {"name": "labels"}, "transform": [{"filter": "datum.p === 'F'"}], "mark": {"type": "point", "shape": "M-1,-0.125H1V0.125H-1Z", "size": 784, "filled": true, "fill": "#ffffff", "stroke": "#666666", "strokeWidth": 0.6, "opacity": 1}},
{"data": {"name": "labels"}, "transform": [{"filter": "datum.p === 'F'"}], "mark": {"type": "text", "fontSize": 5.9, "font": "Liberation Sans", "color": "#333"}, "encoding": {"text": {"field": "t"}}},
{"data": {"name": "dots"}, "transform": [{"filter": "datum.p === 'F'"}], "mark": {"type": "point", "shape": "M-1,0A1,0.6,0,1,1,1,0A1,0.6,0,1,1,-1,0Z", "size": 49, "filled": true, "color": "#c4161c", "opacity": 1}},
{"data": {"name": "runs"}, "transform": [{"filter": "datum.p === 'F'"}], "mark": {"type": "text", "dx": -7, "fontSize": 7, "font": "Liberation Sans", "color": "#333"}, "encoding": {"text": {"field": "n"}}}
]}
], "spacing": 81, "bounds": "flush"}
], "spacing": 23
}
